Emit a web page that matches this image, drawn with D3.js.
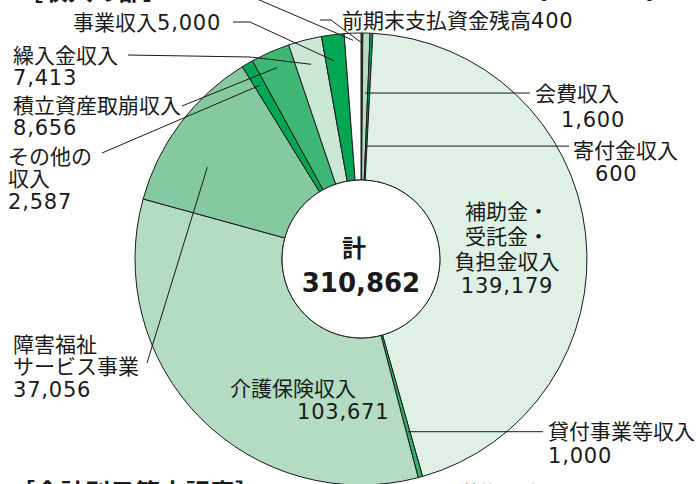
<!DOCTYPE html>
<html><head><meta charset="utf-8">
<script src="https://cdn.jsdelivr.net/npm/d3@7"></script>
<style>body{margin:0;background:#fff}svg{display:block}</style>
</head><body>
<script>
// ---- data ----
const categories = ["前期末支払資金残高","会費収入","寄付金収入","補助金・受託金・負担金収入","貸付事業等収入","介護保険収入","障害福祉サービス事業","その他の収入","積立資産取崩収入","繰入金収入","事業収入","受取利息配当金"];
const values = [400,1600,600,139179,1000,103671,37056,2587,8656,7413,5000,3700];
const nameLines = [["前期末支払資金残高"],["会費収入"],["寄付金収入"],["補助金・","受託金・","負担金収入"],["貸付事業等収入"],["介護保険収入"],["障害福祉","サービス事業"],["その他の","収入"],["積立資産取崩収入"],["繰入金収入"],["事業収入"],["受取利息配当金"]];
const inlineValue = [true,false,false,false,false,false,false,false,false,false,true,true];
const totalTitle = "計";
const totalValue = 310862;
const headings = ["［収入の部］","[単位：千円]","［会計別予算内訳表］","[単位：千円]"];

// ---- styles / layout ----
const colors = ["#00a651","#b3dcc3","#00a651","#dff1e5","#2fb36c","#b3dcc3","#84c99f","#00a651","#3eb674","#cbe7d5","#00a651","#ffffff"];
const W = 696, H = 484, cx = 361, cy = 259, R = 226, r0 = 79, FS = 21;
const layout = [
  {pos:[[342,20]], leader:[[320,20],[331,20]], t:0.5, r:216},
  {pos:[[535,93],[561,119]], horiz:530, t:0.5, r:166},
  {pos:[[573,150],[595,173]], horiz:569, t:0.5, r:113},
  {pos:[[507,211],[507,236],[507,261],[507,285]], anchor:"middle"},
  {pos:[[548,431],[548,455]], horiz:543, t:0.5, r:179},
  {pos:[[230,388],[297,411]]},
  {pos:[[13,344],[13,366],[13,389]], leader:[[147,363]], t:0.36, r:179},
  {pos:[[8,156],[8,178],[8,201]], leader:[[102,153]], t:0.5, r:201},
  {pos:[[13,105],[13,127]], leader:[[182,106]], t:0.5, r:209},
  {pos:[[13,55],[13,77]], leader:[[128,55],[250,57]], t:0.5, r:201},
  {pos:[[73,22]], leader:[[233,22],[250,22]], t:0.4, r:200},
  {pos:[[312,-13]], leader:[[250,-4]], t:0.5, r:219}
];

const fmt = d3.format(",");
const data = categories.map((c,i)=>({name:c, value:values[i], i}));

const svg = d3.select("body").append("svg").attr("width",W).attr("height",H);
const g = svg.append("g").attr("transform",`translate(${cx},${cy})`);

const pie = d3.pie().sort(null).value(d=>d.value).startAngle(0).endAngle(2*Math.PI);
const arcs = pie(data);
const arc = d3.arc().innerRadius(r0).outerRadius(R);

g.selectAll("path.slice").data(arcs).join("path")
  .attr("class","slice")
  .attr("d",arc)
  .attr("fill",d=>colors[d.data.i])
  .attr("stroke","#1a1a1a").attr("stroke-width",1).attr("stroke-linejoin","round");

g.append("circle").attr("r",r0).attr("fill","#fff").attr("stroke","#1a1a1a").attr("stroke-width",1);

// leaders
const polar = (a, rr) => [cx + rr*Math.sin(a), cy - rr*Math.cos(a)];
arcs.forEach(d=>{
  const L = layout[d.data.i];
  if (L.r === undefined) return;
  const a = d.startAngle + (d.endAngle - d.startAngle)*L.t;
  const end = polar(a, L.r);
  let pts;
  if (L.horiz !== undefined) pts = [[L.horiz, end[1]], end];
  else pts = L.leader.concat([end]);
  svg.append("path").attr("d", d3.line()(pts))
    .attr("fill","none").attr("stroke","#1a1a1a").attr("stroke-width",1);
});

// labels
const labelFam = "'DejaVu Sans','Noto Sans CJK JP',sans-serif";
const cjkFam = "'Noto Sans CJK JP',sans-serif";
const numFam = "'DejaVu Sans',sans-serif";
data.forEach(d=>{
  const L = layout[d.i];
  const names = nameLines[d.i];
  const rows = names.map(n=>({name:n, num:null}));
  if (inlineValue[d.i]) rows[rows.length-1].num = fmt(d.value);
  else rows.push({name:null, num:fmt(d.value)});
  rows.forEach((row,k)=>{
    const p = L.pos[k];
    const t = svg.append("text").attr("x",p[0]).attr("y",p[1] + 0.38*FS)
      .attr("text-anchor", L.anchor || "start").attr("fill","#1a1a1a")
      .attr("font-family", labelFam).attr("font-size", FS);
    if (row.name) t.append("tspan").text(row.name);
    if (row.num) t.append("tspan").attr("letter-spacing",0.8).text(row.num);
  });
});

// center total
svg.append("text").attr("x",cx-7).attr("y",248+0.38*24).attr("text-anchor","middle")
  .attr("font-family",cjkFam).attr("font-weight","bold").attr("font-size",24).attr("fill","#1a1a1a")
  .text(totalTitle);
svg.append("text").attr("x",cx).attr("y",282+0.37*27).attr("text-anchor","middle")
  .attr("font-family",numFam).attr("font-weight","bold").attr("font-size",26).attr("fill","#1a1a1a")
  .text(fmt(totalValue));

// headings (cut off by the frame)
const headPos = [[18,-10,25,"bold"],[540,-10,20,"normal"],[10,492,25,"bold"],[451,493,20,"normal"]];
headings.forEach((h,k)=>{
  const p = headPos[k];
  svg.append("text").attr("x",p[0]).attr("y",p[1]+0.38*p[2])
    .attr("font-family",cjkFam).attr("font-size",p[2]).attr("font-weight",p[3]).attr("fill","#1a1a1a")
    .text(h);
});
</script>
</body></html>
